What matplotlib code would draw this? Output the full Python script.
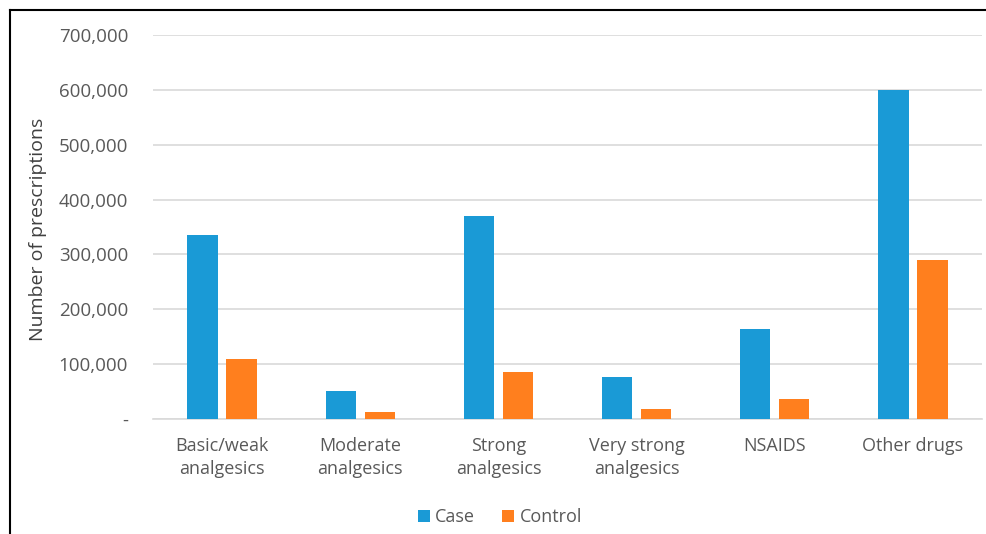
import numpy as np
import matplotlib
matplotlib.use('Agg')
import matplotlib.pyplot as plt
from matplotlib.lines import Line2D
import matplotlib.ticker as mticker

# ---- data ----
categories = ['Basic/weak\nanalgesics', 'Moderate\nanalgesics', 'Strong\nanalgesics',
              'Very strong\nanalgesics', 'NSAIDS', 'Other drugs']
case_vals = [336000, 51000, 370000, 77000, 164000, 600000]
control_vals = [110000, 13000, 86000, 18000, 36000, 290000]
y_ticks = [0, 100000, 200000, 300000, 400000, 500000, 600000, 700000]

C_CASE = '#1A9AD6'
C_CONTROL = '#FF7F1E'
C_TEXT = '#595959'
C_GRID = '#D9D9D9'

plt.rcParams['font.family'] = ['Open Sans', 'DejaVu Sans']

fig = plt.figure(figsize=(9.86, 5.34), dpi=100)
ax = fig.add_axes([153 / 986, 1 - 419 / 534, (982 - 153) / 986, (419 - 35) / 534])

x = np.arange(len(categories))
width = 0.22
off = 0.141
ax.bar(x - off, case_vals, width, color=C_CASE, label='Case', zorder=3)
ax.bar(x + off, control_vals, width, color=C_CONTROL, label='Control', zorder=3)

ax.set_xlim(-0.5, len(categories) - 0.5)
ax.set_ylim(0, 700000)
ax.set_yticks(y_ticks)
ax.yaxis.set_major_formatter(mticker.FuncFormatter(lambda v, p: '-' if v == 0 else f'{int(v):,}'))
ax.set_xticks(x)
ax.set_xticklabels(categories, fontsize=13, color=C_TEXT, linespacing=1.35)
ax.tick_params(axis='y', labelsize=13.5, labelcolor=C_TEXT, length=0, pad=18)
ax.tick_params(axis='x', length=0, pad=13)
ax.grid(axis='y', color=C_GRID, linewidth=1.2, zorder=0)
for side in ['top', 'right', 'left']:
    ax.spines[side].set_visible(False)
ax.spines['bottom'].set_color(C_GRID)
ax.spines['bottom'].set_linewidth(1.2)

fig.text(38 / 986, 1 - 229 / 534, 'Number of prescriptions', rotation=90,
         ha='center', va='center', fontsize=14, color='#404040')

fig.legend(loc='center', bbox_to_anchor=(500 / 986, 1 - 517 / 534), ncol=2, frameon=False,
           fontsize=13, handlelength=0.65, handleheight=0.65, handletextpad=0.3,
           columnspacing=1.5, labelcolor=C_TEXT)

# outer frame (left and top edges)
fig.add_artist(Line2D([10 / 986, 10 / 986], [0, 1 - 10 / 534], color='black', linewidth=1.5))
fig.add_artist(Line2D([10 / 986, 1], [1 - 10 / 534, 1 - 10 / 534], color='black', linewidth=1.5))

fig.savefig('out.png', dpi=100, facecolor='white')
